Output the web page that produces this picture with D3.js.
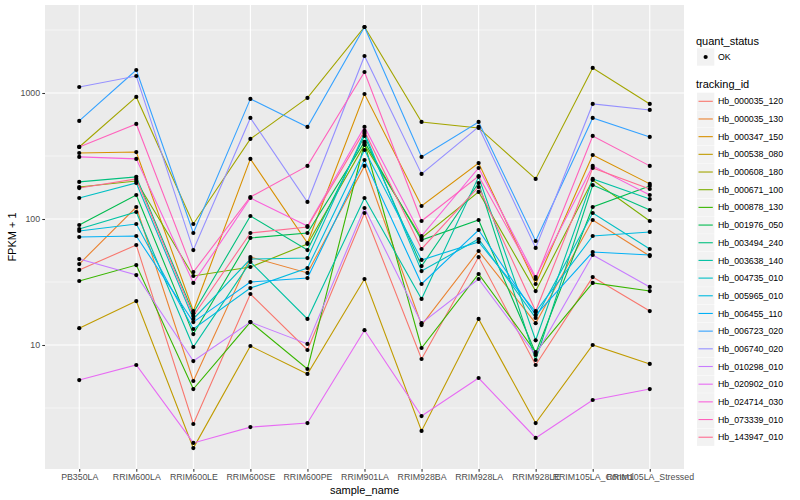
<!DOCTYPE html>
<html>
<head>
<meta charset="utf-8">
<script src="https://cdn.jsdelivr.net/npm/d3@7"></script>
<style>
  html, body { margin: 0; padding: 0; background: #ffffff; }
  svg { display: block; font-family: "Liberation Sans", Arial, Helvetica, sans-serif; }
</style>
</head>
<body>
<svg id="chart" width="800" height="500"></svg>
<script>
// ---------- data ----------
const samples = ["PB350LA", "RRIM600LA", "RRIM600LE", "RRIM600SE", "RRIM600PE", "RRIM901LA",
  "RRIM928BA", "RRIM928LA", "RRIM928LE", "RRIM105LA_Control", "RRIM105LA_Stressed"];

const trackingIds = ["Hb_000035_120", "Hb_000035_130", "Hb_000347_150", "Hb_000538_080", "Hb_000608_180",
  "Hb_000671_100", "Hb_000878_130", "Hb_001976_050", "Hb_003494_240", "Hb_003638_140",
  "Hb_004735_010", "Hb_005965_010", "Hb_006455_110", "Hb_006723_020", "Hb_006740_020",
  "Hb_010298_010", "Hb_020902_010", "Hb_024714_030", "Hb_073339_010", "Hb_143947_010"];

// FPKM + 1, one array per tracking_id, in sample order
const Hb_000035_120 = [39.4, 62.2, 2.36, 25.4, 9.13, 111.6, 7.74, 49.9, 6.94, 34.6, 18.6];
const Hb_000035_130 = [43.9, 124.5, 5.18, 49.9, 37.3, 263.6, 14.4, 55.7, 14.9, 98.2, 50.8];
const Hb_000347_150 = [334, 340, 18.6, 300, 64.5, 982, 126.8, 278, 30.5, 322, 190];
const Hb_000538_080 = [13.6, 22.3, 1.52, 9.82, 5.89, 33.4, 2.08, 16.1, 2.40, 10.0, 7.07];
const Hb_000608_180 = [373, 931, 91.3, 432, 914, 3340, 589, 528, 208, 1580, 819];
const Hb_000671_100 = [179.5, 200, 35.3, 41.6, 63.3, 387, 70.7, 164, 26.8, 204, 96.4];
const Hb_000878_130 = [32.2, 43.1, 4.47, 15.2, 6.45, 401, 9.47, 36.6, 8.80, 31.1, 26.8];
const Hb_001976_050 = [89.6, 155, 12.2, 70.7, 77.4, 409, 68.1, 98.2, 8.64, 124.5, 183];
const Hb_003494_240 = [197, 216, 17.9, 105.6, 56.7, 456, 42.3, 193, 7.60, 186, 117.9];
const Hb_003638_140 = [83.3, 113.6, 9.64, 45.6, 16.1, 146.8, 23.2, 216, 10.9, 208, 144];
const Hb_004735_010 = [146.8, 193, 16.1, 48.1, 49.0, 482, 38.6, 69.4, 16.4, 111.6, 57.8];
const Hb_005965_010 = [80.3, 91.3, 13.4, 28.3, 40.8, 353, 47.3, 65.7, 18.3, 73.3, 78.9];
const Hb_006455_110 = [72.0, 73.3, 15.2, 31.6, 34.0, 294, 30.5, 81.8, 17.3, 54.7, 51.8];
const Hb_006723_020 = [600, 1523, 77.4, 898, 538, 3340, 311, 589, 66.9, 634, 448];
const Hb_006740_020 = [1116, 1364, 56.7, 634, 136.5, 1967, 228, 538, 58.9, 819, 734];
const Hb_010298_010 = [48.1, 35.9, 7.46, 15.2, 10.2, 122.3, 14.9, 33.4, 8.33, 51.8, 28.9];
const Hb_020902_010 = [5.27, 6.94, 1.67, 2.23, 2.40, 13.1, 2.73, 5.47, 1.83, 3.66, 4.47];
const Hb_024714_030 = [311, 300, 31.1, 146.8, 88.0, 538, 73.3, 254, 34.6, 264, 155];
const Hb_073339_010 = [373, 568, 37.9, 149.5, 264, 1468, 96.4, 219.5, 33.4, 456, 264];
const Hb_143947_010 = [176, 208, 17.0, 77.4, 86.4, 500, 57.8, 179.5, 18.6, 254, 173];

const seriesValues = [Hb_000035_120, Hb_000035_130, Hb_000347_150, Hb_000538_080, Hb_000608_180,
  Hb_000671_100, Hb_000878_130, Hb_001976_050, Hb_003494_240, Hb_003638_140,
  Hb_004735_010, Hb_005965_010, Hb_006455_110, Hb_006723_020, Hb_006740_020,
  Hb_010298_010, Hb_020902_010, Hb_024714_030, Hb_073339_010, Hb_143947_010];

const yTicks = [10, 100, 1000];
const yMinor = [Math.pow(10, 0.5), Math.pow(10, 1.5), Math.pow(10, 2.5), Math.pow(10, 3.5)];
const quantStatus = ["OK"];

const palette = ["#F8766D", "#EA8331", "#D89000", "#C09B00", "#A3A500", "#7CAE00", "#39B600", "#00BB4E",
  "#00BF7D", "#00C1A3", "#00BFC4", "#00BAE0", "#00B0F6", "#35A2FF", "#9590FF", "#C77CFF",
  "#E76BF3", "#FA62DB", "#FF62BC", "#FF6C91"];

// ---------- layout ----------
const svg = d3.select("#chart");
const panel = { left: 45, right: 684, top: 5, bottom: 469 };

const x = d3.scalePoint().domain(samples).range([panel.left, panel.right]).padding(0.6);
const y = d3.scaleLog()
  .domain([Math.pow(10, 1 - 124 / 126), Math.pow(10, 3 + 88 / 126)])
  .range([panel.bottom, panel.top]);
const color = d3.scaleOrdinal().domain(trackingIds).range(palette);

// panel background
svg.append("rect")
  .attr("x", panel.left).attr("y", panel.top)
  .attr("width", panel.right - panel.left).attr("height", panel.bottom - panel.top)
  .attr("fill", "#EBEBEB");

// grid
const grid = svg.append("g");
grid.selectAll(".minor").data(yMinor).enter().append("line")
  .attr("x1", panel.left).attr("x2", panel.right)
  .attr("y1", d => y(d)).attr("y2", d => y(d))
  .attr("stroke", "#ffffff").attr("stroke-width", 0.55);
grid.selectAll(".majorY").data(yTicks).enter().append("line")
  .attr("x1", panel.left).attr("x2", panel.right)
  .attr("y1", d => y(d)).attr("y2", d => y(d))
  .attr("stroke", "#ffffff").attr("stroke-width", 1.1);
grid.selectAll(".majorX").data(samples).enter().append("line")
  .attr("x1", d => x(d)).attr("x2", d => x(d))
  .attr("y1", panel.top).attr("y2", panel.bottom)
  .attr("stroke", "#ffffff").attr("stroke-width", 1.1);

// lines
const series = trackingIds.map((id, i) => ({
  id, values: samples.map((s, j) => ({ s, v: seriesValues[i][j] }))
}));
const line = d3.line().x(d => x(d.s)).y(d => y(d.v));
svg.append("g").selectAll("path").data(series).enter().append("path")
  .attr("d", d => line(d.values))
  .attr("fill", "none")
  .attr("stroke", d => color(d.id))
  .attr("stroke-width", 1.1);

// points
const pts = series.flatMap(d => d.values);
svg.append("g").selectAll("circle").data(pts).enter().append("circle")
  .attr("cx", d => x(d.s)).attr("cy", d => y(d.v))
  .attr("r", 2.1).attr("fill", "#000000");

// axes
const xAxis = d3.axisBottom(x).tickSize(2.75).tickPadding(2.2);
const gx = svg.append("g").attr("transform", `translate(0,${panel.bottom})`).call(xAxis);
gx.select(".domain").remove();
gx.selectAll(".tick line").attr("stroke", "#333333").attr("stroke-width", 1.07);
gx.selectAll(".tick text").attr("fill", "#4D4D4D").attr("font-size", "8.8px")
  .attr("font-family", "Liberation Sans, Arial, sans-serif");

const yAxis = d3.axisLeft(y).tickValues(yTicks).tickFormat(d3.format("d")).tickSize(2.75).tickPadding(2.2);
const gy = svg.append("g").attr("transform", `translate(${panel.left},0)`).call(yAxis);
gy.select(".domain").remove();
gy.selectAll(".tick line").attr("stroke", "#333333").attr("stroke-width", 1.07);
gy.selectAll(".tick text").attr("fill", "#4D4D4D").attr("font-size", "8.8px")
  .attr("font-family", "Liberation Sans, Arial, sans-serif");

// axis titles
svg.append("text")
  .attr("x", (panel.left + panel.right) / 2).attr("y", 494)
  .attr("text-anchor", "middle").attr("font-size", "11px").attr("fill", "#000")
  .text("sample_name");
svg.append("text")
  .attr("transform", `translate(16,${(panel.top + panel.bottom) / 2}) rotate(-90)`)
  .attr("text-anchor", "middle").attr("font-size", "11px").attr("fill", "#000")
  .text("FPKM + 1");

// legend: quant_status
const lg = svg.append("g");
const keyX = 697, keySize = 17.3, labelX = 718;
lg.append("text").attr("x", 696).attr("y", 45).attr("font-size", "11px").attr("fill", "#000").text("quant_status");
const qs = lg.selectAll(".qs").data(quantStatus).enter().append("g")
  .attr("transform", (d, i) => `translate(0,${57 + i * keySize})`);
qs.append("rect").attr("x", keyX).attr("y", -keySize / 2).attr("width", keySize).attr("height", keySize).attr("fill", "#F2F2F2");
qs.append("circle").attr("cx", keyX + keySize / 2).attr("cy", 0).attr("r", 2.1).attr("fill", "#000");
qs.append("text").attr("x", labelX).attr("y", 3.1).attr("font-size", "8.8px").attr("fill", "#000").text(d => d);

// legend: tracking_id
lg.append("text").attr("x", 696).attr("y", 88).attr("font-size", "11px").attr("fill", "#000").text("tracking_id");
const ti = lg.selectAll(".ti").data(trackingIds).enter().append("g")
  .attr("transform", (d, i) => `translate(0,${101.3 + i * 17.68})`);
ti.append("rect").attr("x", keyX).attr("y", -keySize / 2).attr("width", keySize).attr("height", keySize).attr("fill", "#F2F2F2");
ti.append("line").attr("x1", keyX + 1.5).attr("x2", keyX + keySize - 1.5).attr("y1", 0).attr("y2", 0)
  .attr("stroke", d => color(d)).attr("stroke-width", 1.1);
ti.append("text").attr("x", labelX).attr("y", 3.1).attr("font-size", "8.8px").attr("fill", "#000").text(d => d);
</script>
</body>
</html>
